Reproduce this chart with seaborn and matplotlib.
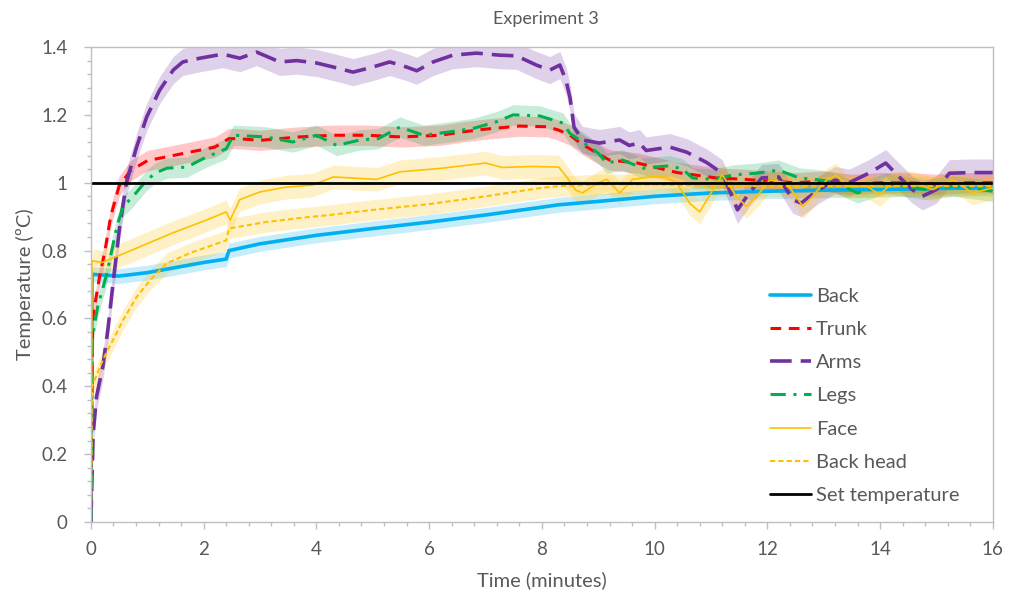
import numpy as np
import pandas as pd
import matplotlib
matplotlib.use("Agg")
import matplotlib.pyplot as plt
import seaborn as sns
from matplotlib.ticker import MultipleLocator, FuncFormatter

# Values (time in minutes, temperature in degC)
back_t = [0, 0.02, 0.5, 1, 1.5, 2, 2.4, 2.45, 3, 4, 5, 6, 7, 8, 8.3, 9, 10, 11, 12, 13, 14, 15, 16]
back_v = [0, 0.73, 0.725, 0.735, 0.75, 0.765, 0.775, 0.80, 0.82, 0.845, 0.865, 0.884, 0.905, 0.928, 0.935,
          0.945, 0.96, 0.97, 0.975, 0.978, 0.98, 0.983, 0.985]

trunk_t = [0, 0.03, 0.15, 0.25, 0.35, 0.5, 0.7, 1.0, 1.6, 2.2,
           2.45, 2.6, 3.0, 3.7, 4.3, 4.9, 5.5, 6.2, 6.6, 7.0,
           7.6, 8.1, 8.3, 8.5, 8.7, 9.0, 9.2, 9.7, 10.4, 11.1,
           11.6, 12.0, 12.5, 13.0, 13.5, 14.0, 14.5, 15.0, 15.5, 16]
trunk_v = [0, 0.6, 0.72, 0.8, 0.9, 0.99, 1.035, 1.065, 1.085, 1.105,
           1.13, 1.13, 1.125, 1.135, 1.14, 1.14, 1.135, 1.14, 1.15, 1.158,
           1.167, 1.165, 1.155, 1.14, 1.115, 1.085, 1.067, 1.058, 1.03, 1.014,
           1.01, 1.005, 1.0, 1.005, 0.995, 1.0, 1.0, 0.995, 1.0, 1.0]

arms_t = [0, 0.04, 0.1, 0.21, 0.3, 0.39, 0.51, 0.63, 0.81, 0.99,
          1.22, 1.46, 1.63, 1.93, 2.34, 2.64, 2.94, 3.35, 3.65, 4.0,
          4.3, 4.65, 5.0, 5.3, 5.6, 5.78, 6.07, 6.42, 6.84, 7.25,
          7.55, 7.9, 8.14, 8.32, 8.43, 8.5, 8.57, 8.72, 9.02, 9.38,
          9.55, 9.73, 9.85, 10.27, 10.57, 10.92, 11.2, 11.38, 11.47, 11.68,
          11.9, 12.2, 12.45, 12.6, 12.9, 13.2, 13.45, 13.8, 14.1, 14.34,
          14.57, 14.75, 15.0, 15.23, 15.6, 16]
arms_v = [0, 0.26, 0.37, 0.457, 0.566, 0.7, 0.87, 1.0, 1.105, 1.194,
          1.273, 1.332, 1.356, 1.367, 1.379, 1.367, 1.385, 1.356, 1.36, 1.353,
          1.341, 1.326, 1.341, 1.356, 1.341, 1.33, 1.356, 1.376, 1.382, 1.376,
          1.374, 1.347, 1.332, 1.347, 1.30, 1.25, 1.164, 1.126, 1.117, 1.126,
          1.11, 1.117, 1.095, 1.105, 1.09, 1.06, 1.028, 0.958, 0.92, 0.97,
          1.014, 1.017, 0.95, 0.94, 0.978, 1.008, 1.0, 1.028, 1.058, 1.017,
          0.98, 0.96, 0.98, 1.028, 1.03, 1.03]

legs_t = [0, 0.03, 0.12, 0.28, 0.46, 0.57, 0.75, 0.99, 1.16, 1.35,
          1.7, 2.05, 2.4, 2.53, 3.1, 3.58, 4.0, 4.36, 4.77, 5.1,
          5.48, 5.9, 6.37, 6.78, 7.2, 7.49, 7.96, 8.37, 8.5, 8.72,
          9.0, 9.15, 9.43, 9.79, 10.27, 10.5, 10.67, 11.03, 11.4, 11.8,
          12.2, 12.57, 12.93, 13.2, 13.6, 14.1, 14.8, 15.3, 16]
legs_v = [0, 0.55, 0.634, 0.73, 0.87, 0.93, 0.96, 1.008, 1.03, 1.043,
          1.046, 1.076, 1.1, 1.14, 1.135, 1.12, 1.14, 1.11, 1.126, 1.13,
          1.164, 1.14, 1.15, 1.16, 1.18, 1.2, 1.197, 1.176, 1.145, 1.12,
          1.087, 1.058, 1.067, 1.043, 1.05, 1.04, 1.014, 1.01, 1.023, 1.028,
          1.037, 1.014, 1.008, 1.0, 0.97, 0.998, 0.98, 0.99, 0.975]

face_t = [0, 0.02, 0.2, 0.39, 0.85, 1.45, 2.05, 2.4, 2.47, 2.64,
          3.0, 3.46, 3.93, 4.3, 5.07, 5.48, 6.24, 7.0, 7.3, 7.84,
          8.3, 8.44, 8.6, 8.72, 9.0, 9.15, 9.38, 9.61, 9.91, 10.2,
          10.39, 10.62, 10.8, 11.03, 11.2, 11.45, 11.63, 11.86, 12.04, 12.34,
          12.63, 12.8, 13.05, 13.22, 13.4, 13.76, 13.99, 14.22, 14.57, 14.93,
          15.3, 15.64, 16]
face_v = [0, 0.77, 0.765, 0.778, 0.81, 0.852, 0.89, 0.914, 0.89, 0.95,
          0.973, 0.987, 0.993, 1.017, 1.01, 1.032, 1.043, 1.058, 1.045, 1.048,
          1.046, 1.017, 0.978, 0.97, 1.0, 1.01, 0.97, 1.01, 1.017, 1.017,
          1.0, 0.94, 0.914, 0.978, 1.023, 0.96, 0.93, 0.97, 1.008, 1.0,
          0.93, 0.96, 1.008, 1.023, 0.99, 0.99, 0.965, 1.0, 1.0, 0.98,
          1.008, 0.97, 0.985]

bhead_t = [0, 0.02, 0.21, 0.39, 0.57, 0.81, 1.05, 1.35, 1.76, 2.4,
           2.45, 3.1, 3.7, 4.24, 5.0, 6.0, 7.0, 8.0, 8.3, 9.0,
           10.0, 11.0, 12.0, 13.0, 14.0, 15.0, 16]
bhead_v = [0, 0.4, 0.477, 0.536, 0.595, 0.663, 0.713, 0.763, 0.793, 0.83,
           0.865, 0.884, 0.896, 0.905, 0.92, 0.937, 0.96, 0.985, 0.99, 0.995,
           0.995, 0.99, 0.99, 0.99, 0.99, 0.99, 0.99]

set_t = [0, 16]
set_v = [1, 1]

# half-width of the shaded error band for each series
band = {"Back": 0.022, "Trunk": 0.03, "Arms": 0.04, "Legs": 0.03, "Face": 0.035, "Back head": 0.03}

GREY = "#595959"
AXIS = "#BFBFBF"

sns.set_style("white")
plt.rcParams["font.family"] = ["Lato", "DejaVu Sans"]

fig = plt.figure(figsize=(10.10, 5.99), dpi=100)
ax = fig.add_axes([0.090, 0.1285, 0.893, 0.793])

series = [
    ("Back", back_t, back_v, "#00B0F0", 2.6, None),
    ("Trunk", trunk_t, trunk_v, "#FF0000", 2.2, (3.5, 2.5)),
    ("Arms", arms_t, arms_v, "#7030A0", 2.6, (6, 2.5)),
    ("Legs", legs_t, legs_v, "#00B050", 2.2, (5, 2.5, 1, 2.5)),
    ("Face", face_t, face_v, "#FFC000", 1.2, None),
    ("Back head", bhead_t, bhead_v, "#FFC000", 1.5, (2.5, 1.5)),
]

for label, t, v, color, lw, dashes in series:
    t = np.array(t)
    v = np.array(v)
    ax.fill_between(t[1:], v[1:] - band[label], v[1:] + band[label], color=color, alpha=0.22, lw=0)

for label, t, v, color, lw, dashes in series:
    df = pd.DataFrame({"t": t, "v": v})
    sns.lineplot(data=df, x="t", y="v", ax=ax, color=color, lw=lw,
                 estimator=None, sort=False, label=label)
    if dashes:
        ax.lines[-1].set_dashes(dashes)

sns.lineplot(data=pd.DataFrame({"t": set_t, "v": set_v}), x="t", y="v", ax=ax,
             color="black", lw=2, estimator=None, label="Set temperature")

ax.set_xlim(0, 16)
ax.set_ylim(0, 1.4)
ax.xaxis.set_major_locator(MultipleLocator(2))
ax.xaxis.set_minor_locator(MultipleLocator(0.4))
ax.yaxis.set_major_locator(MultipleLocator(0.2))
ax.yaxis.set_minor_locator(MultipleLocator(0.04))
ax.yaxis.set_major_formatter(FuncFormatter(lambda val, _: f"{val:g}"))

for s in ax.spines.values():
    s.set_visible(True)
    s.set_color(AXIS)
    s.set_linewidth(1)
ax.tick_params(which="major", direction="out", length=5, width=1, color=AXIS,
               labelsize=13.5, labelcolor=GREY, pad=9, left=True, bottom=True)
ax.tick_params(axis="y", which="major", pad=12)
ax.tick_params(which="minor", direction="out", length=3, width=1, color=AXIS,
               left=True, bottom=True)

ax.set_xlabel("Time (minutes)", fontsize=14.5, color=GREY, labelpad=9)
ax.set_ylabel("Temperature (ºC)", fontsize=14.5, color=GREY, labelpad=5)
fig.text(0.54, 0.968, "Experiment 3", ha="center", va="center", fontsize=13, color=GREY)

ax.legend(loc="upper left", bbox_to_anchor=(0.737, 0.523), frameon=False, fontsize=14.5,
          labelcolor=GREY, handlelength=2.05, labelspacing=0.80, handletextpad=0.25,
          borderaxespad=0.3)

fig.savefig("out.png", dpi=100)
